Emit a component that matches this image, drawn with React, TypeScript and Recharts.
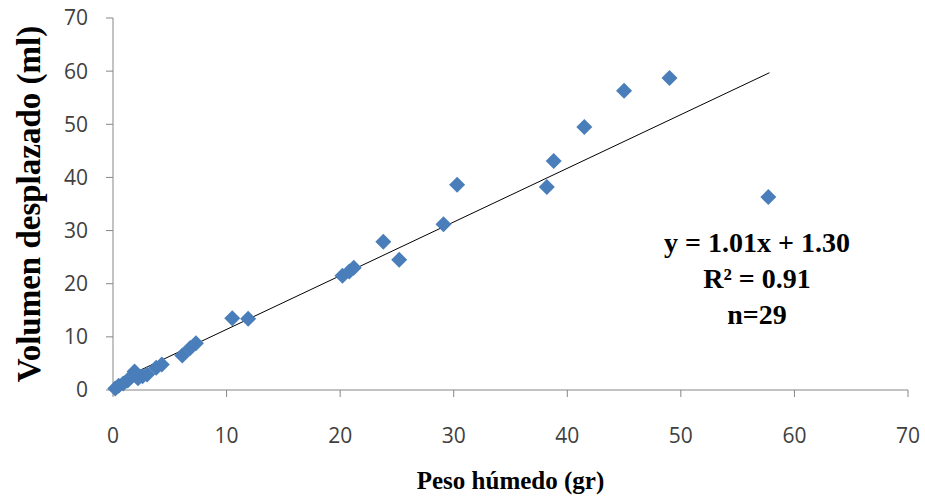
import React from "react";
import {
  ScatterChart,
  Scatter,
  XAxis,
  YAxis,
  ReferenceLine,
} from "recharts";

// peso húmedo (gr) vs volumen desplazado (ml), n=29
const pesoHumedo = [
  0.2, 0.5, 0.9, 1.3, 1.6, 1.9, 2.2, 2.6, 3.0, 3.8, 4.3, 6.1, 6.8, 7.3, 10.5,
  11.9, 20.2, 20.8, 21.2, 23.8, 25.2, 29.1, 30.3, 38.2, 38.8, 41.5, 45.0, 49.0,
  57.7,
];
const volumen = [
  0.3, 0.8, 1.2, 1.8, 2.5, 3.5, 2.2, 2.6, 2.9, 4.2, 4.8, 6.5, 7.9, 8.8, 13.5,
  13.4, 21.5, 22.3, 23.0, 27.9, 24.5, 31.2, 38.6, 38.2, 43.1, 49.5, 56.3, 58.7,
  36.3,
];
const ticks = [0, 10, 20, 30, 40, 50, 60, 70];
const trendStart = { x: 0, y: 1.3 };
const trendEnd = { x: 57.8, y: 59.7 };
const equationLines = ["y = 1.01x + 1.30", "R² = 0.91", "n=29"];

const points = pesoHumedo.map((x, i) => ({ x, y: volumen[i] }));

const axisColor = "#868686";
const tickStyle = { fill: "#404040", fontSize: 21, fontFamily: "'Open Sans', sans-serif" };

function Diamond(props: any) {
  const { cx, cy } = props;
  const r = 8;
  return (
    <polygon
      points={`${cx},${cy - r} ${cx + r},${cy} ${cx},${cy + r} ${cx - r},${cy}`}
      fill="#4A7EBB"
    />
  );
}

export default function App() {
  return (
    <div style={{ position: "absolute", left: 0, top: 0, width: 925, height: 501, background: "#fff" }}>
      <ScatterChart width={925} height={501} margin={{ top: 18, right: 17, bottom: 0, left: 0 }}>
        <XAxis
          type="number"
          dataKey="x"
          domain={[0, 70]}
          ticks={ticks}
          height={111}
          stroke={axisColor}
          tickSize={7}
          tickMargin={31}
          tick={tickStyle}
          label={{
            value: "Peso húmedo (gr)",
            position: "insideBottom",
            offset: 12,
            style: { fontFamily: "'Liberation Serif', serif", fontWeight: "bold", fontSize: 25, fill: "#000" },
          }}
        />
        <YAxis
          type="number"
          dataKey="y"
          domain={[0, 70]}
          ticks={ticks}
          width={113}
          stroke={axisColor}
          tickSize={7}
          tickMargin={18}
          tick={tickStyle}
          label={{
            value: "Volumen desplazado (ml)",
            angle: -90,
            position: "insideLeft",
            offset: 28,
            style: { textAnchor: "middle", fontFamily: "'Liberation Serif', serif", fontWeight: "bold", fontSize: 33, fill: "#000" },
          }}
        />
        <Scatter data={points} shape={<Diamond />} isAnimationActive={false} />
        <ReferenceLine
          segment={[trendStart, trendEnd]}
          stroke="#000"
          strokeWidth={1}
          ifOverflow="visible"
        />
      </ScatterChart>
      <div
        style={{
          position: "absolute",
          left: 640,
          top: 225,
          width: 234,
          textAlign: "center",
          fontFamily: "'Liberation Serif', serif",
          fontWeight: "bold",
          fontSize: 28,
          lineHeight: "36px",
          color: "#000",
        }}
      >
        {equationLines.map((l) => (
          <div key={l}>{l}</div>
        ))}
      </div>
    </div>
  );
}
